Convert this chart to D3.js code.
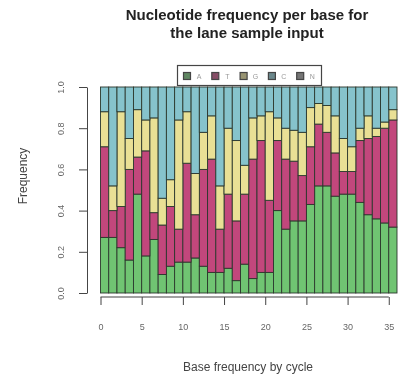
<!DOCTYPE html>
<html>
<head>
<meta charset="UTF-8">
<title>Nucleotide frequency per base</title>
<script src="https://d3js.org/d3.v7.min.js"></script>
<style>
  html, body { margin: 0; padding: 0; background: #fff; }
  svg { display: block; font-family: "Liberation Sans", Arial, sans-serif; }
</style>
</head>
<body>
<svg id="chart" width="398" height="381"></svg>
<script>
// values, one bar per cycle
const cycles = d3.range(0, 36);
const baseA = [0.27,0.27,0.22,0.16,0.48,0.18,0.26,0.09,0.13,0.15,0.15,0.17,0.13,0.10,0.10,0.12,0.06,0.14,
               0.07,0.10,0.10,0.40,0.31,0.35,0.35,0.43,0.52,0.52,0.47,0.48,0.48,0.44,0.38,0.36,0.34,0.32];
const baseT = [0.44,0.13,0.20,0.44,0.18,0.51,0.13,0.24,0.29,0.16,0.48,0.21,0.47,0.55,0.21,0.36,0.29,0.34,
               0.58,0.64,0.35,0.34,0.34,0.29,0.22,0.28,0.30,0.26,0.21,0.11,0.11,0.30,0.37,0.40,0.46,0.52];
const baseG = [0.17,0.12,0.46,0.15,0.23,0.15,0.46,0.13,0.13,0.53,0.25,0.20,0.18,0.21,0.21,0.32,0.39,0.14,
               0.20,0.12,0.43,0.11,0.15,0.15,0.21,0.19,0.10,0.13,0.18,0.16,0.12,0.06,0.11,0.04,0.03,0.05];
const baseC = [0.12,0.48,0.12,0.25,0.11,0.16,0.15,0.54,0.45,0.16,0.12,0.42,0.22,0.14,0.48,0.20,0.26,0.38,
               0.15,0.14,0.12,0.15,0.20,0.21,0.22,0.10,0.08,0.09,0.14,0.25,0.29,0.20,0.14,0.20,0.17,0.11];
const baseN = cycles.map(() => 0);

const bases = ["A", "T", "G", "C", "N"];
const colors = ["#70c472", "#c2467b", "#e9e095", "#86c3cc", "#9a9a9a"];
const yTicks = [0, 0.2, 0.4, 0.6, 0.8, 1.0];
const xTicks = [0, 5, 10, 15, 20, 25, 30, 35];

const rows = cycles.map((c, i) => ({
  cycle: c, A: baseA[i], T: baseT[i], G: baseG[i], C: baseC[i], N: baseN[i]
}));

const svg = d3.select("#chart");

// the reference is a soft, upscaled image
svg.append("defs").append("filter")
  .attr("id", "soft").attr("x", "-5%").attr("y", "-5%").attr("width", "110%").attr("height", "110%")
  .append("feGaussianBlur").attr("stdDeviation", 0.7);

const g = svg.append("g").attr("filter", "url(#soft)");

const x = d3.scaleLinear().domain([0, 36]).range([100.5, 397]);
const y = d3.scaleLinear().domain([0, 1]).range([293, 87]);

const stack = d3.stack().keys(bases);
const layers = stack(rows);

g.selectAll("g.layer")
  .data(layers)
  .join("g")
  .attr("class", "layer")
  .attr("fill", (d, i) => colors[i])
  .selectAll("rect")
  .data(d => d.filter(s => s[1] - s[0] > 0))
  .join("rect")
  .attr("x", d => x(d.data.cycle))
  .attr("width", d => x(d.data.cycle + 1) - x(d.data.cycle))
  .attr("y", d => y(d[1]))
  .attr("height", d => y(d[0]) - y(d[1]))
  .attr("stroke", "#2c382d")
  .attr("stroke-width", 0.9);

// y axis, R style with labels parallel to the axis
const yAxis = g.append("g")
  .attr("transform", "translate(87,0)")
  .call(d3.axisLeft(y).tickValues(yTicks).tickSize(8).tickSizeOuter(0).tickFormat(d3.format(".1f")));
yAxis.select(".domain").attr("stroke", "#444");
yAxis.selectAll(".tick line").attr("stroke", "#444");
yAxis.selectAll(".tick text")
  .attr("transform", "rotate(-90)")
  .attr("x", 0).attr("y", -23).attr("dy", 0)
  .attr("text-anchor", "middle")
  .attr("fill", "#666")
  .style("font-size", "9px");

// x axis, line only between first and last tick
const xAxis = g.append("g")
  .attr("transform", "translate(0,297)")
  .call(d3.axisBottom(x).tickValues(xTicks).tickSize(8).tickPadding(19).tickFormat(d3.format("d")));
xAxis.select(".domain").remove();
xAxis.append("line")
  .attr("x1", x(xTicks[0])).attr("x2", x(xTicks[xTicks.length - 1]))
  .attr("stroke", "#444");
xAxis.selectAll(".tick line").attr("stroke", "#444");
xAxis.selectAll(".tick text").attr("fill", "#666").style("font-size", "9px");

// legend
const legend = g.append("g");
legend.append("rect")
  .attr("x", 177.5).attr("y", 65.5).attr("width", 144).attr("height", 20)
  .attr("fill", "#fff").attr("stroke", "#444").attr("stroke-width", 1.2);
const item = legend.selectAll("g.item")
  .data(bases)
  .join("g")
  .attr("class", "item")
  .attr("transform", (d, i) => `translate(${187 + i * 28.3},76)`);
item.append("rect")
  .attr("x", -3.5).attr("y", -3.5).attr("width", 7).attr("height", 7)
  .attr("fill", (d, i) => d3.interpolateRgb(colors[i], "#555")(0.55))
  .attr("stroke", "#444").attr("stroke-width", 1.2);
item.append("text")
  .attr("x", 12).attr("y", 2.5)
  .attr("text-anchor", "middle")
  .attr("fill", "#999")
  .style("font-size", "7px")
  .text(d => d);

// titles
g.append("text")
  .attr("x", 247).attr("y", 20)
  .attr("text-anchor", "middle")
  .attr("font-weight", "bold").style("font-size", "15px").attr("fill", "#222")
  .text("Nucleotide frequency per base for");
g.append("text")
  .attr("x", 247).attr("y", 38)
  .attr("text-anchor", "middle")
  .attr("font-weight", "bold").style("font-size", "15px").attr("fill", "#222")
  .text("the lane sample input");

g.append("text")
  .attr("x", 248).attr("y", 371)
  .attr("text-anchor", "middle")
  .style("font-size", "12px").attr("fill", "#444")
  .text("Base frequency by cycle");

g.append("text")
  .attr("transform", "translate(27,176) rotate(-90)")
  .attr("text-anchor", "middle")
  .style("font-size", "12px").attr("fill", "#444")
  .text("Frequency");
</script>
</body>
</html>
